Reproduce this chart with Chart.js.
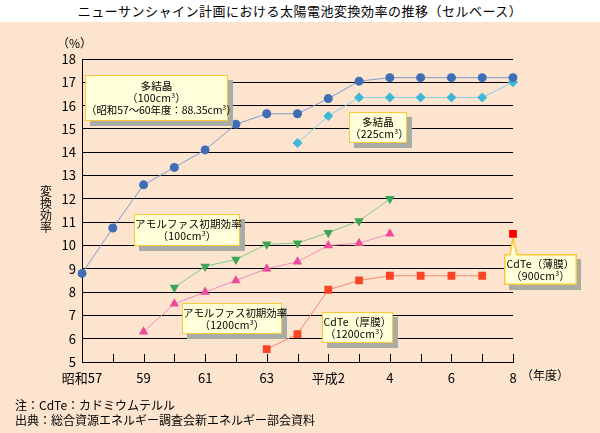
<!DOCTYPE html>
<html>
<head>
<meta charset="utf-8">
<script src="https://cdn.jsdelivr.net/npm/chart.js@4/dist/chart.umd.min.js"></script>
<style>
html, body { margin: 0; padding: 0; }
body { width: 600px; height: 433px; background: #FCE4CE; position: relative; overflow: hidden;
  font-family: "Noto Sans CJK JP", sans-serif; color: #000; }
#head { position: absolute; left: 0; top: 0; width: 600px; height: 22px; background: #fff;
  font-size: 13px; line-height: 22px; text-align: center; letter-spacing: 0.5px; }
#wrap { position: absolute; left: 0; top: 0; width: 600px; height: 433px; }
.lbl { position: absolute; font-size: 12px; line-height: 12px; white-space: nowrap; }
.box { position: absolute; background: #FFFFD9; border: 1.5px solid #FAC93A; box-shadow: 5px 5px 0 #A9ABA5;
  font-size: 10.5px; line-height: 11.7px; text-align: center; box-sizing: border-box; white-space: nowrap;
  letter-spacing: 0.2px; display: flex; flex-direction: column; justify-content: center; }
.txt { position: absolute; font-size: 10.5px; line-height: 11.7px; text-align: center; white-space: nowrap;
  letter-spacing: 0.2px; display: flex; flex-direction: column; justify-content: center; }
.tight { letter-spacing: -0.1px; }
sup { font-size: 7px; line-height: 7px; vertical-align: 4px; }
#overlay { position: absolute; left: 0; top: 0; }
</style>
</head>
<body>
<div id="head">ニューサンシャイン計画における太陽電池変換効率の推移（セルベース）</div>
<div id="wrap"><canvas id="chart" width="600" height="433"></canvas></div>

<div class="lbl" style="left:57px;top:37px;">（%）</div>
<div class="lbl" style="left:40px;top:185px;line-height:12px;">変<br>換<br>効<br>率</div>
<div class="lbl" style="left:521px;top:369px;">（年度）</div>
<div class="lbl" style="left:15px;top:399px;">注：CdTe：カドミウムテルル</div>
<div class="lbl" style="left:15px;top:414px;">出典：総合資源エネルギー調査会新エネルギー部会資料</div>

<div class="box" style="left:85px;top:75px;width:143px;height:46px;">
  <div>多結晶</div><div>（100cm<sup>3</sup>）</div><div class="tight">（昭和57〜60年度：88.35cm<sup>3</sup>）</div>
</div>
<div class="box" style="left:349px;top:112px;width:58px;height:31px;">
  <div>多結晶</div><div>（225cm<sup>3</sup>）</div>
</div>
<div class="box" style="left:134px;top:214px;width:106px;height:32px;">
  <div>アモルファス初期効率</div><div>（100cm<sup>3</sup>）</div>
</div>
<div class="box" style="left:182px;top:303px;width:100px;height:31px;">
  <div class="tight">アモルファス初期効率</div><div>（1200cm<sup>3</sup>）</div>
</div>
<div class="box" style="left:322px;top:312px;width:71px;height:31px;">
  <div>CdTe（厚膜）</div><div>（1200cm<sup>3</sup>）</div>
</div>

<svg id="overlay" width="600" height="433">
  <rect x="509" y="259" width="72" height="31" fill="#A9ABA5"/>
  <rect x="504.75" y="254.75" width="71.5" height="29.5" fill="#FFFFD9" stroke="#FAC93A" stroke-width="1.5"/>
  <polygon points="510.5,256 513,238.5 516.5,256" fill="#FFFFD9"/>
  <polyline points="510,255 513,238.5 517,255" fill="none" stroke="#FAC93A" stroke-width="1.5"/>
</svg>
<div class="txt" style="left:504px;top:254px;width:73px;height:31px;">
  <div>CdTe（薄膜）</div><div>（900cm<sup>3</sup>）</div>
</div>

<script>
// fiscal years 昭和57 .. 平成8
const years = ['昭和57', '58', '59', '60', '61', '62', '63', '平成元', '平成2', '3', '4', '5', '6', '7', '8'];
const yearTicks = ['昭和57', '', '59', '', '61', '', '63', '', '平成2', '', '4', '', '6', '', '8'];

// conversion efficiency (%)
const polySmall = [8.8, 10.75, 12.6, 13.35, 14.1, 15.2, 15.65, 15.65, 16.3, 17.05, 17.2, 17.2, 17.2, 17.2, 17.2];
const polyLarge = [null, null, null, null, null, null, null, 14.4, 15.55, 16.35, 16.35, 16.35, 16.35, 16.35, 17.0];
const amorSmall = [null, null, null, 8.2, 9.1, 9.4, 10.05, 10.1, 10.55, 11.05, 12.0, null, null, null, null];
const amorLarge = [null, null, 6.3, 7.5, 8.0, 8.5, 9.0, 9.3, 10.0, 10.1, 10.5, null, null, null, null];
const cdteThick = [null, null, null, null, null, null, 5.55, 6.2, 8.1, 8.5, 8.7, 8.7, 8.7, 8.7, null];
const cdteThin  = [null, null, null, null, null, null, null, null, null, null, null, null, null, null, 10.5];

const FONT = "'Noto Sans CJK JP', sans-serif";

// short tick marks pointing up into the plot from the year axis
const innerTicks = {
  id: 'innerTicks',
  beforeDatasetsDraw(chart) {
    const { ctx, scales: { x }, chartArea } = chart;
    ctx.save();
    ctx.strokeStyle = '#000';
    ctx.lineWidth = 1;
    years.forEach((_, i) => {
      const px = Math.round(x.getPixelForValue(i)) + 0.5;
      ctx.beginPath();
      ctx.moveTo(px, chartArea.bottom);
      ctx.lineTo(px, chartArea.bottom - 8);
      ctx.stroke();
    });
    ctx.restore();
  }
};

function series(data, color, line, style, radius, rotation) {
  return {
    data, borderColor: line, backgroundColor: color, pointBackgroundColor: color, pointBorderColor: color,
    borderWidth: 1, pointStyle: style, pointRadius: radius, pointRotation: rotation || 0,
    pointBorderWidth: 0, tension: 0, spanGaps: false
  };
}

new Chart(document.getElementById('chart'), {
  type: 'line',
  data: {
    labels: years,
    datasets: [
      series(polySmall, '#3F6DB6', '#7D9BD1', 'circle', 4.5),
      series(polyLarge, '#3FB7D7', '#80CFE3', 'rectRot', 5),
      series(amorSmall, '#3DA553', '#80C98B', 'triangle', 5.5, 180),
      series(amorLarge, '#EE4A9B', '#F08BC1', 'triangle', 5.5),
      series(cdteThick, '#F94426', '#F8856B', 'rect', 5.5),
      series(cdteThin, '#FF0000', '#FF0000', 'rect', 5.5)
    ]
  },
  options: {
    responsive: false,
    animation: false,
    layout: { padding: { top: 59, right: 87, bottom: 41, left: 0 } },
    plugins: { legend: { display: false }, title: { display: false }, tooltip: { enabled: false } },
    scales: {
      x: {
        offset: false,
        afterFit: s => { s.height = 30; },
        grid: { display: false, drawTicks: false },
        border: { display: true, color: '#000', width: 1 },
        ticks: { color: '#000', font: { family: FONT, size: 13 }, padding: 8, maxRotation: 0, autoSkip: false,
          callback: (v, i) => yearTicks[i] }
      },
      y: {
        min: 5, max: 18,
        afterFit: s => { s.width = 82; },
        grid: { color: '#000', lineWidth: 1, drawTicks: false },
        border: { display: true, color: '#000', width: 1 },
        ticks: { stepSize: 1, color: '#000', font: { family: FONT, size: 13 }, padding: 6 }
      }
    }
  },
  plugins: [innerTicks]
});
</script>
</body>
</html>
